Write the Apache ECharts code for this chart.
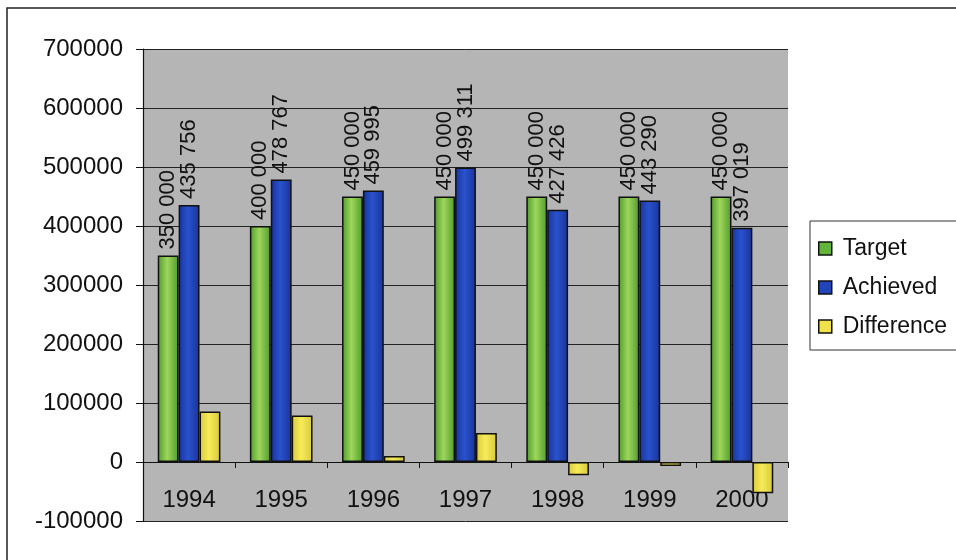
<!DOCTYPE html>
<html>
<head>
<meta charset="utf-8">
<script src="https://cdn.jsdelivr.net/npm/echarts@6/dist/echarts.min.js"></script>
<style>
  html, body { margin: 0; padding: 0; background: #ffffff; }
  #chart { width: 956px; height: 560px; }
</style>
</head>
<body>
<div id="chart"></div>
<script>
// Yearly targets versus results, 1994–2000
const years = ['1994', '1995', '1996', '1997', '1998', '1999', '2000'];
const target = [350000, 400000, 450000, 450000, 450000, 450000, 450000];
const achieved = [435756, 478767, 459995, 499311, 427426, 443290, 397019];
const difference = [85756, 78767, 9995, 49311, -22574, -6710, -52981];
const yTicks = [-100000, 0, 100000, 200000, 300000, 400000, 500000, 600000, 700000];

const FONT = '"Liberation Sans", Arial, sans-serif';

// "435 756" style thousands grouping
function spaced(v) {
  return String(v).replace(/\B(?=(\d{3})+(?!\d))/g, ' ');
}

function hGrad(edge, mid) {
  return new echarts.graphic.LinearGradient(0, 0, 1, 0, [
    { offset: 0, color: edge },
    { offset: 0.45, color: mid },
    { offset: 1, color: edge }
  ]);
}

const valueLabel = {
  show: true,
  position: 'top',
  rotate: 90,
  align: 'left',
  verticalAlign: 'middle',
  distance: 6,
  fontFamily: FONT,
  fontSize: 22,
  color: '#111',
  formatter: p => spaced(p.value)
};

const chart = echarts.init(document.getElementById('chart'), null, { renderer: 'canvas' });

chart.setOption({
  animation: false,
  backgroundColor: '#ffffff',
  textStyle: { fontFamily: FONT },
  graphic: [{
    type: 'rect',
    z: -10,
    shape: { x: 7, y: 8, width: 1000, height: 600 },
    style: { fill: 'none', stroke: '#222', lineWidth: 1.5 }
  }],
  grid: {
    left: 143, right: 168, top: 49, bottom: 39,
    show: true,
    backgroundColor: '#b5b5b5',
    borderWidth: 0
  },
  legend: {
    orient: 'vertical',
    left: 810,
    top: 221,
    padding: [16, 24, 12, 8],
    icon: 'rect',
    itemWidth: 13,
    itemHeight: 13,
    itemGap: 16,
    borderColor: '#333',
    borderWidth: 1,
    textStyle: { fontFamily: FONT, fontSize: 23, color: '#111', padding: [0, 0, 0, 6] },
    data: [
      { name: 'Target', itemStyle: { color: '#62b43a', borderColor: '#111', borderWidth: 1.5 } },
      { name: 'Achieved', itemStyle: { color: '#2244bb', borderColor: '#111', borderWidth: 1.5 } },
      { name: 'Difference', itemStyle: { color: '#f0e34a', borderColor: '#111', borderWidth: 1.5 } }
    ]
  },
  xAxis: {
    type: 'category',
    data: years,
    axisLine: { onZero: true, lineStyle: { color: '#111', width: 1.2 } },
    axisTick: { show: true, inside: false, length: 6, alignWithLabel: false, lineStyle: { color: '#111' } },
    // year labels sit just under the zero line, inside the plot area
    axisLabel: { margin: -33, fontFamily: FONT, fontSize: 24, color: '#111' },
    splitLine: { show: false }
  },
  yAxis: {
    type: 'value',
    min: yTicks[0],
    max: yTicks[yTicks.length - 1],
    interval: 100000,
    axisLine: { show: true, lineStyle: { color: '#111', width: 1.2 } },
    axisTick: { show: true, length: 7, lineStyle: { color: '#111' } },
    axisLabel: { margin: 20, fontFamily: FONT, fontSize: 24, color: '#111', formatter: v => String(v) },
    splitLine: { show: true, lineStyle: { color: '#222', width: 1 } }
  },
  series: [
    {
      name: 'Target', type: 'bar', data: target,
      barGap: '0%', barCategoryGap: '32%',
      itemStyle: { color: hGrad('#4f9a2c', '#9ed65c'), borderColor: '#111', borderWidth: 1.5 },
      label: valueLabel
    },
    {
      name: 'Achieved', type: 'bar', data: achieved,
      barGap: '0%', barCategoryGap: '32%',
      itemStyle: { color: hGrad('#17339c', '#2a52cc'), borderColor: '#111', borderWidth: 1.5 },
      label: valueLabel
    },
    {
      name: 'Difference', type: 'bar', data: difference,
      barGap: '0%', barCategoryGap: '32%',
      itemStyle: { color: hGrad('#d8c83a', '#f6ec5a'), borderColor: '#111', borderWidth: 1.5 }
    }
  ]
});
</script>
</body>
</html>
